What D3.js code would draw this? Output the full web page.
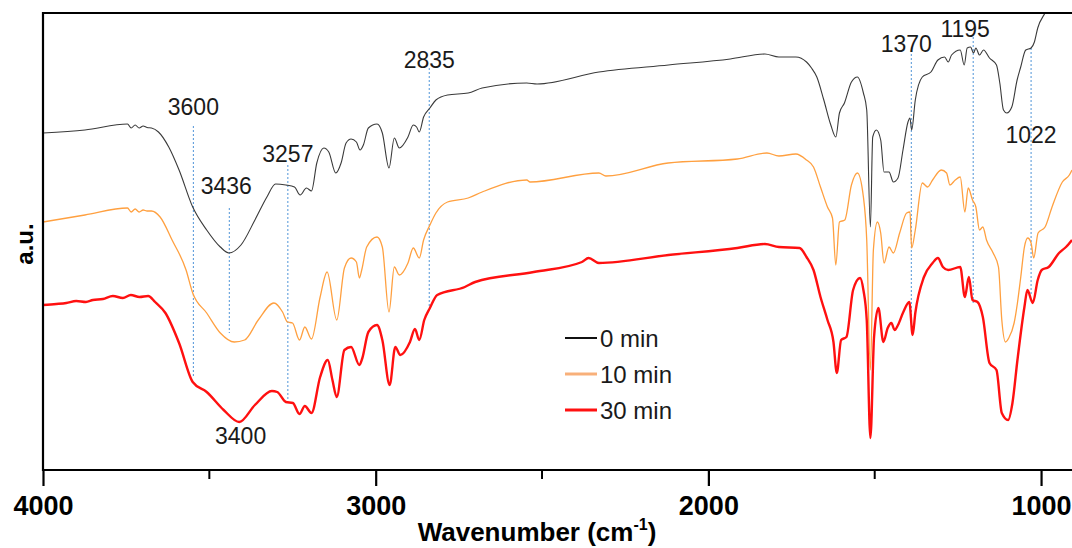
<!DOCTYPE html>
<html>
<head>
<meta charset="utf-8">
<script src="https://cdn.jsdelivr.net/npm/d3@7"></script>
<style>
  html, body { margin: 0; padding: 0; background: #fff; }
  svg { display: block; font-family: "Liberation Sans", Arial, sans-serif; }
</style>
</head>
<body>
<svg id="irChart" width="1072" height="548"></svg>
<script>
// FTIR spectra at 0, 10 and 30 min - [wavenumber, a.u.] pairs

const spec0 = [
  [4000,337],[3874,340],[3746,346],[3735,342],[3723,345],[3711,342],[3699,344],[3687,342.5],
  [3674,342],[3653,338],[3622,323],[3591,300],[3550,263],[3508,240],[3467,223],[3441,217],
  [3405,225],[3363,250],[3327,273],[3301,286],[3270,285],[3244,283],[3227,275],[3208,282],
  [3193,279],[3177,307],[3156,322],[3141,318],[3120,297],[3104,307],[3089,327],[3074,331],
  [3058,328],[3047,320],[3037,325],[3022,342],[2996,346],[2980,337],[2960,302],[2944,332],
  [2929,322],[2903,333],[2887,345],[2877,343],[2869,338],[2856,353],[2837,362],[2819,370],
  [2784,375],[2722,377],[2680,382],[2546,387],[2515,386],[2329,398],[2120,405],[1934,411],
  [1830,416],[1788,413],[1737,413],[1705,408],[1690,402],[1674,393],[1653,370],[1632,345],
  [1617,333],[1606,357],[1591,367],[1570,388],[1552,393],[1534,377],[1524,360],[1513,243],
  [1506,333],[1495,340],[1482,330],[1472,298],[1457,298],[1444,288],[1430,292],[1415,320],
  [1400,348],[1394,352],[1389,340],[1378,370],[1357,393],[1331,398],[1310,410],[1290,413],
  [1279,408],[1269,415],[1243,420],[1231,405],[1222,422],[1212,423],[1203,417],[1196,422],
  [1185,415],[1173,420],[1155,412],[1134,405],[1124,387],[1113,360],[1103,357],[1088,363],
  [1072,390],[1062,402],[1046,420],[1030,422],[1020,428],[1010,442],[988,457],[950,480],[907,500]
];

const spec10 = [
  [4000,248],[3874,255],[3746,262],[3735,258],[3723,261],[3711,258],[3699,260],[3687,259],
  [3674,259],[3648,253],[3612,230],[3570,200],[3550,177],[3508,157],[3467,137],[3425,128],
  [3394,130],[3353,150],[3306,167],[3280,158],[3265,148],[3250,147],[3229,130],[3213,143],
  [3193,131],[3167,173],[3146,198],[3117,150],[3094,202],[3074,212],[3058,208],[3049,192],
  [3042,200],[3027,223],[2996,233],[2980,223],[2960,158],[2944,203],[2929,195],[2903,207],
  [2887,222],[2869,212],[2856,230],[2837,245],[2819,257],[2784,268],[2722,272],[2680,278],
  [2546,290],[2536,288],[2329,297],[2308,294],[2121,307],[1913,311],[1824,317],[1788,314],
  [1737,316],[1705,310],[1684,303],[1663,283],[1642,263],[1627,252],[1617,205],[1606,248],
  [1590,250],[1570,285],[1552,297],[1534,273],[1524,230],[1513,100],[1504,220],[1492,248],
  [1482,237],[1472,207],[1457,223],[1444,217],[1425,237],[1404,257],[1394,258],[1389,222],
  [1378,240],[1357,287],[1341,283],[1326,290],[1300,300],[1284,297],[1274,285],[1258,290],
  [1243,293],[1229,258],[1219,282],[1206,270],[1196,263],[1185,240],[1175,243],[1164,230],
  [1144,217],[1128,203],[1118,150],[1107,128],[1097,132],[1081,147],[1071,167],[1061,193],
  [1050,223],[1040,232],[1030,227],[1022,212],[1009,237],[988,243],[967,263],[936,288],
  [915,295],[907,300]
];

const spec30 = [
  [4000,165],[3960,166],[3930,167],[3900,169],[3871,168],[3850,170],[3820,171],[3790,174],
  [3760,172],[3736,175],[3710,173],[3684,174],[3663,168],[3632,157],
  [3591,127],[3550,88],[3508,78],[3457,60],[3410,48],[3363,65],[3312,79],[3296,78],
  [3270,68],[3249,67],[3229,56],[3213,64],[3193,57],[3167,93],[3144,110],[3130,90],
  [3117,73],[3094,120],[3074,123],[3049,105],[3040,112],[3022,138],[2996,145],[2980,130],
  [2958,85],[2941,123],[2926,115],[2897,128],[2882,141],[2869,130],[2854,150],[2837,162],
  [2815,175],[2732,183],[2701,188],[2525,198],[2380,208],[2360,212],[2329,207],[2120,215],
  [1913,222],[1830,226],[1788,223],[1726,222],[1705,213],[1684,200],[1663,173],[1642,150],
  [1624,128],[1614,97],[1601,130],[1585,133],[1565,180],[1544,192],[1534,180],[1524,150],
  [1513,32],[1502,133],[1489,162],[1474,128],[1461,142],[1450,147],[1440,140],[1430,145],
  [1414,158],[1396,168],[1386,135],[1378,157],[1352,193],[1326,207],[1310,212],[1295,203],
  [1279,200],[1243,203],[1229,173],[1217,193],[1206,170],[1191,168],[1175,153],[1155,107],
  [1134,100],[1118,57],[1099,50],[1086,67],[1071,110],[1050,163],[1041,180],[1025,167],
  [1010,190],[998,200],[977,203],[946,217],[925,223],[907,230]
];

const seriesNames = ['0 min', '10 min', '30 min'];
const seriesColors = ['#3a3a3a', '#ffa040', '#ff1010'];
const legendColors = ['#111111', '#f8b07a', '#ff1010'];
const seriesWidths = [1.1, 1.3, 2.4];

// marked bands: label text, wavenumber where the dashed line stands, line top / bottom (a.u.)
const peakLabels = ['3600', '3436', '3257', '2835', '1370', '1195', '1022'];
const peakPos = [3548, 3440, 3264, 2839, 1390, 1204, 1030];
const peakTop = [344, 262, 305, 402, 420, 433, 422];
const peakBottom = [92, 137, 70, 162, 147, 167, 175];
const extraLabel = ['3400', 3406];

const xTicks = [4000, 3000, 2000, 1000];
const xMinorTicks = [3500, 2500, 1500];

const svg = d3.select('#irChart');
const plotLeft = 43, plotRight = 1072, plotTop = 13, plotBottom = 470;

const xScale = d3.scaleLinear().domain([4000, 907]).range([plotLeft, plotRight]);
const yScale = d3.scaleLinear().domain([0, 457]).range([plotBottom, plotTop]);

svg.append('defs').append('clipPath').attr('id', 'plotClip')
  .append('rect')
    .attr('x', plotLeft).attr('y', plotTop)
    .attr('width', plotRight - plotLeft).attr('height', plotBottom - plotTop);

//dashed marker lines
svg.append('g').selectAll('line')
  .data(peakPos)
  .enter()
  .append('line')
    .attr('x1', d => xScale(d))
    .attr('x2', d => xScale(d))
    .attr('y1', (d, i) => yScale(peakTop[i]))
    .attr('y2', (d, i) => yScale(peakBottom[i]))
    .attr('stroke', '#4f94d8')
    .attr('stroke-width', 1)
    .attr('stroke-dasharray', '2,2');

//spectra
const line = d3.line()
  .x(d => xScale(d[0]))
  .y(d => yScale(d[1]))
  .curve(d3.curveMonotoneX);

const plot = svg.append('g').attr('clip-path', 'url(#plotClip)');
[spec0, spec10, spec30].forEach(function(spec, i) {
  plot.append('path')
    .datum(spec)
    .attr('fill', 'none')
    .attr('stroke', seriesColors[i])
    .attr('stroke-width', seriesWidths[i])
    .attr('stroke-linejoin', 'round')
    .attr('d', line);
});

//band labels
const labelY = [115, 194, 162, 68, 52, 37, 143];
const labelShift = [0, -3, 0, 0, -5, -8, 0];
svg.append('g').selectAll('text')
  .data(peakLabels)
  .enter()
  .append('text')
    .attr('x', (d, i) => xScale(peakPos[i]) + labelShift[i])
    .attr('y', (d, i) => labelY[i])
    .attr('text-anchor', 'middle')
    .attr('font-size', '23px')
    .attr('fill', '#1a1a1a')
    .text(d => d);

svg.append('text')
  .attr('x', xScale(extraLabel[1]))
  .attr('y', 444)
  .attr('text-anchor', 'middle')
  .attr('font-size', '23px')
  .attr('fill', '#1a1a1a')
  .text(extraLabel[0]);

//axes
const xAxis = svg.append('g')
  .attr('transform', `translate(0, ${plotBottom})`)
  .call(d3.axisBottom(xScale).tickValues(xTicks).tickSize(16).tickFormat(d3.format('d')));
xAxis.select('.domain').attr('stroke', '#000').attr('stroke-width', 2.2).attr('d', `M${plotLeft},0H${plotRight}`);
xAxis.selectAll('.tick line').attr('stroke', '#000').attr('stroke-width', 2.2);
xAxis.selectAll('.tick text')
  .attr('y', 26)
  .attr('font-size', '27px')
  .attr('font-weight', 'bold')
  .attr('font-family', '"Liberation Sans", Arial, sans-serif')
  .attr('fill', '#000');

svg.append('g').selectAll('line')
  .data(xMinorTicks)
  .enter()
  .append('line')
    .attr('x1', d => xScale(d)).attr('x2', d => xScale(d))
    .attr('y1', plotBottom).attr('y2', plotBottom + 9)
    .attr('stroke', '#000').attr('stroke-width', 2);

svg.append('line')
  .attr('x1', plotLeft).attr('x2', plotLeft)
  .attr('y1', plotTop - 1).attr('y2', plotBottom + 1)
  .attr('stroke', '#000').attr('stroke-width', 2.2);

svg.append('line')
  .attr('x1', plotLeft).attr('x2', plotRight)
  .attr('y1', plotTop).attr('y2', plotTop)
  .attr('stroke', '#000').attr('stroke-width', 2.2);

//axis titles
const xTitle = svg.append('text')
  .attr('x', 537)
  .attr('y', 541)
  .attr('text-anchor', 'middle')
  .attr('font-size', '26px')
  .attr('font-weight', 'bold')
  .attr('fill', '#000');
xTitle.append('tspan').text('Wavenumber (cm');
xTitle.append('tspan').attr('font-size', '16px').attr('dy', -11).text('-1');
xTitle.append('tspan').attr('dy', 11).text(')');

svg.append('text')
  .attr('transform', 'translate(33, 244) rotate(-90)')
  .attr('text-anchor', 'middle')
  .attr('font-size', '24px')
  .attr('font-weight', 'bold')
  .attr('fill', '#000')
  .text('a.u.');

//legend
const legend = svg.append('g');
const legendY = [338, 374, 410];
seriesNames.forEach(function(name, i) {
  legend.append('line')
    .attr('x1', 565).attr('x2', 597)
    .attr('y1', legendY[i]).attr('y2', legendY[i])
    .attr('stroke', legendColors[i])
    .attr('stroke-width', i == 0 ? 2 : 3);
  legend.append('text')
    .attr('x', 600)
    .attr('y', legendY[i] + 9)
    .attr('font-size', '24px')
    .attr('fill', '#1a1a1a')
    .text(name);
});
</script>
</body>
</html>
